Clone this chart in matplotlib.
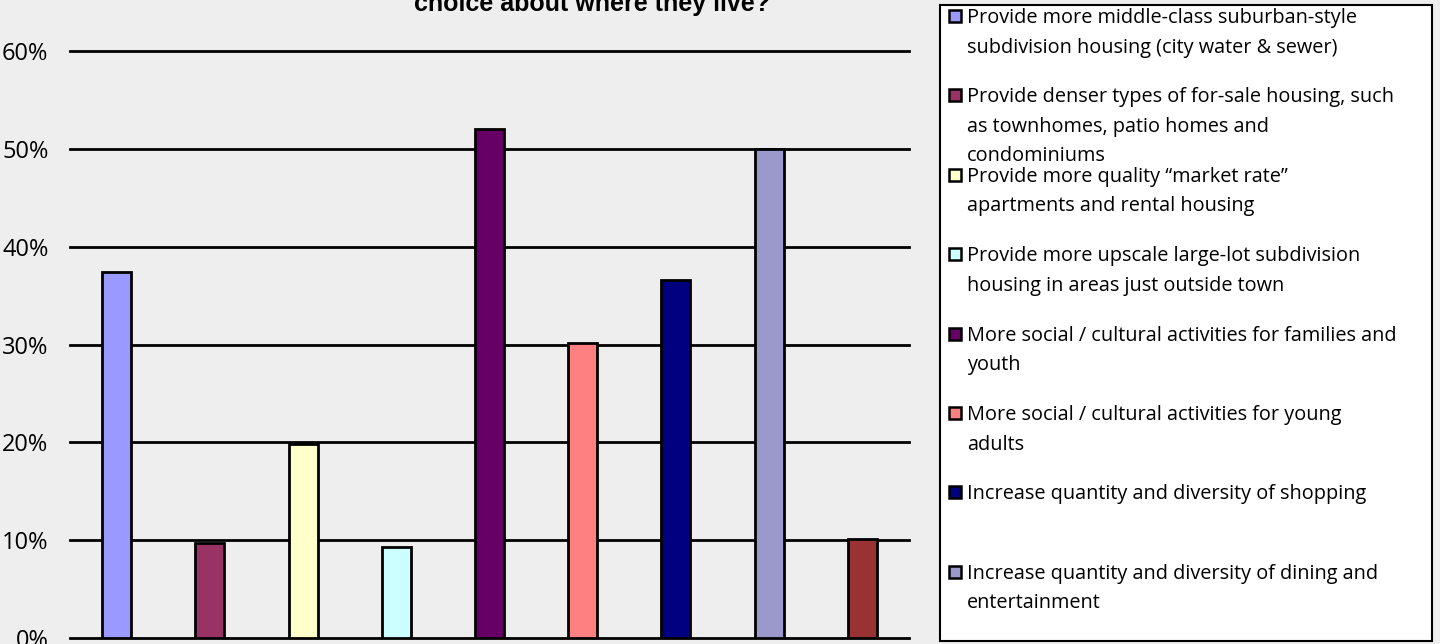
import matplotlib.pyplot as plt
from matplotlib.patches import Rectangle
from matplotlib.ticker import PercentFormatter

# survey answers, share of respondents
values = [0.374, 0.097, 0.198, 0.093, 0.520, 0.302, 0.366, 0.500, 0.101]
colors = ["#9999FF", "#993366", "#FFFFCC", "#CCFFFF", "#660066",
          "#FF8080", "#000080", "#9999CC", "#993333"]
labels = [
    "Provide more middle-class suburban-style\nsubdivision housing (city water & sewer)",
    "Provide denser types of for-sale housing, such\nas townhomes, patio homes and\ncondominiums",
    "Provide more quality \u201cmarket rate\u201d\napartments and rental housing",
    "Provide more upscale large-lot subdivision\nhousing in areas just outside town",
    "More social / cultural activities for families and\nyouth",
    "More social / cultural activities for young\nadults",
    "Increase quantity and diversity of shopping",
    "Increase quantity and diversity of dining and\nentertainment",
]
yticks = [0, 0.1, 0.2, 0.3, 0.4, 0.5, 0.6]

bg = "#EEEEEE"
W, H = 1440, 644
fig = plt.figure(figsize=(14.4, 6.44), dpi=100, facecolor=bg)
ax = fig.add_axes([70 / W, 1 - 638 / H, (909 - 70) / W, (638 - 51) / H])
ax.set_facecolor(bg)

x = list(range(len(values)))
for yv in yticks:
    ax.axhline(yv, color="black", lw=2, zorder=1, clip_on=False)
ax.bar(x, values, width=0.31, color=colors, edgecolor="black", linewidth=2, zorder=2)

ax.set_xlim(-0.5, len(values) - 0.5)
ax.set_ylim(0, 0.6)
ax.set_yticks(yticks)
ax.yaxis.set_major_formatter(PercentFormatter(1.0, decimals=0))
ax.tick_params(axis="y", length=0, pad=15.5, labelsize=17)
ax.set_xticks([])
for s in ax.spines.values():
    s.set_visible(False)
for t in ax.get_yticklabels():
    t.set_fontfamily("Open Sans")

# title, first line runs off the top of the picture
fig.text(592 / W, 1 - 11 / H, "choice about where they live?", ha="center", va="baseline",
         fontsize=18, fontweight="bold", family="Liberation Sans")

# legend box drawn by hand
lx0, ly0, lx1, ly1 = 940, 5, 1432, 641
fig.patches.append(Rectangle((lx0 / W, 1 - ly1 / H), (lx1 - lx0) / W, (ly1 - ly0) / H,
                             transform=fig.transFigure, facecolor="white",
                             edgecolor="black", lw=1.5, zorder=0))
for i, lab in enumerate(labels):
    base = 23 + i * 79.4
    fig.patches.append(Rectangle((949 / W, 1 - (base - 1) / H), 12 / W, 12 / H,
                                 transform=fig.transFigure, facecolor=colors[i],
                                 edgecolor="black", lw=1.8, zorder=3))
    for k, line in enumerate(lab.split("\n")):
        fig.text(967 / W, 1 - (base + 29.5 * k) / H, line, ha="left", va="baseline",
                 fontsize=14.3, family="Open Sans")

fig.savefig("out.png", dpi=100, facecolor=bg)
